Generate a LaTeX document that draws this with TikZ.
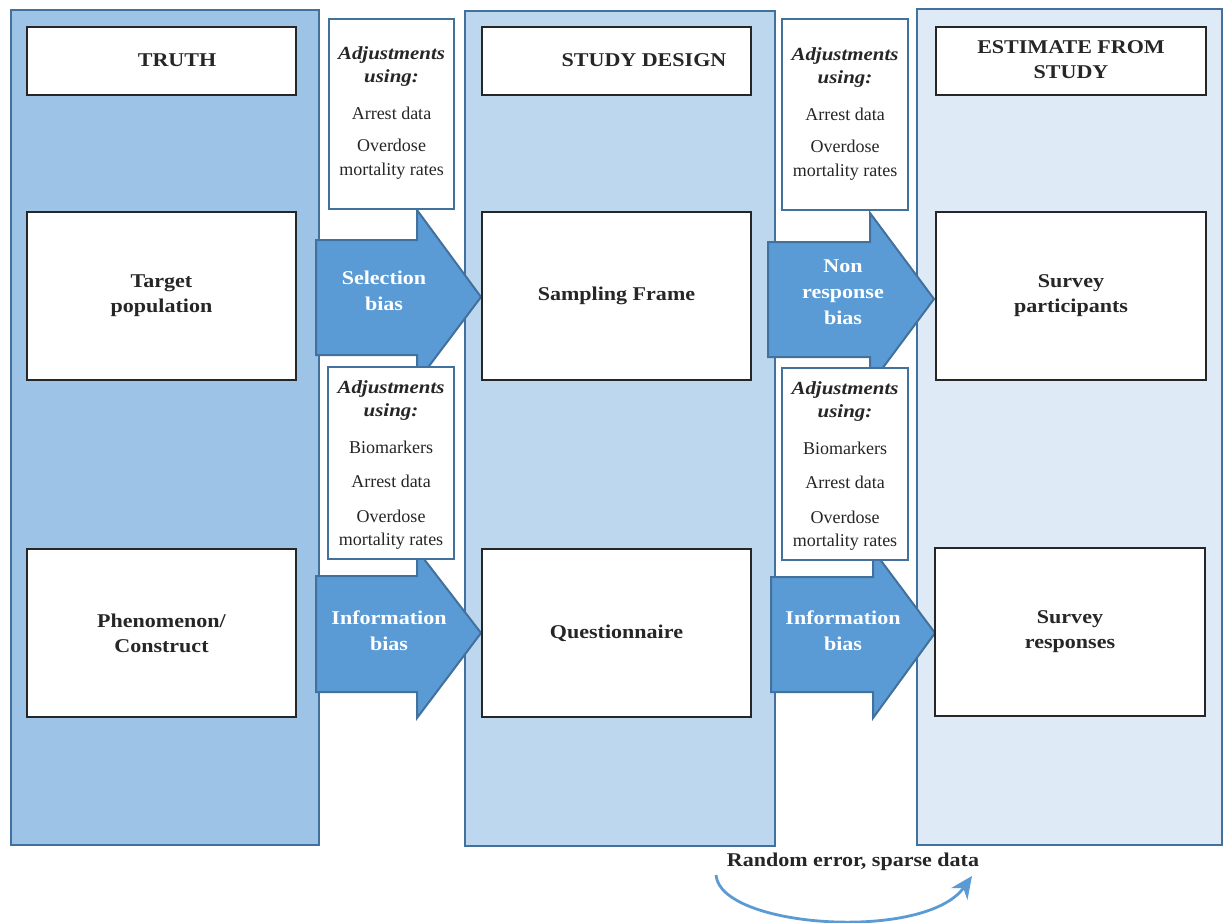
\documentclass[tikz,border=0pt]{standalone}
\usepackage{fontspec}
\setmainfont{Liberation Serif}
\newfontfamily\widefont[FakeStretch=1.13]{Liberation Serif}
\usetikzlibrary{arrows.meta}
\definecolor{colA}{HTML}{9DC3E6}
\definecolor{colB}{HTML}{BDD7EE}
\definecolor{colC}{HTML}{DEEBF7}
\definecolor{edgeblue}{HTML}{41719C}
\definecolor{arrowblue}{HTML}{5B9BD5}
\definecolor{ink}{HTML}{262626}
\newcommand{\adjfont}{\widefont\fontsize{18.5}{23}\selectfont\bfseries\itshape}
\tikzset{
  column/.style={draw=edgeblue, line width=2pt},
  whitebox/.style={draw=ink, fill=white, line width=1.5pt},
  adjbox/.style={draw=edgeblue, fill=white, line width=2pt},
  blockarrow/.style={draw=edgeblue, fill=arrowblue, line width=2pt, line join=miter},
  boldtxt/.style={text=ink, font=\widefont\fontsize{19.5}{25}\selectfont\bfseries, align=center},
  arrowtxt/.style={text=white, font=\widefont\fontsize{19.5}{26}\selectfont\bfseries, align=center},
  adjtxt/.style={text=ink, font=\fontsize{18}{23.5}\selectfont, align=center},
}
\begin{document}
\begin{tikzpicture}[x=1pt,y=-1pt]
\useasboundingbox (0,0) rectangle (1223,922);
\fill[white] (0,0) rectangle (1223,922);
% columns
\draw[column, fill=colA] (11,10) rectangle (319,845);
\draw[column, fill=colB] (465,11) rectangle (775,846);
\draw[column, fill=colC] (917,9) rectangle (1222,845);
% block arrows
\draw[blockarrow] (316,240) -- (417,240) -- (417,210) -- (481,297) -- (417,382) -- (417,355) -- (316,355) -- cycle;
\draw[blockarrow] (768,242) -- (870,242) -- (870,213) -- (934,299) -- (870,385) -- (870,357) -- (768,357) -- cycle;
\draw[blockarrow] (316,576) -- (417,576) -- (417,550) -- (481,633) -- (417,718) -- (417,692) -- (316,692) -- cycle;
\draw[blockarrow] (771,577) -- (873,577) -- (873,550) -- (935,633) -- (873,718) -- (873,692) -- (771,692) -- cycle;
\node[arrowtxt] (selbias) at (384,291) {Selection\\bias};
\node[arrowtxt] (nonresp) at (843,292) {Non\\response\\bias};
\node[arrowtxt] (infoL) at (389,631) {Information\\bias};
\node[arrowtxt] (infoR) at (843,631) {Information\\bias};
% header boxes
\node[whitebox, minimum width=269pt, minimum height=68pt] (truthbox) at (161.5,61) {};
\node[whitebox, minimum width=269pt, minimum height=68pt] (designbox) at (616.5,61) {};
\node[whitebox, minimum width=270pt, minimum height=68pt] (estbox) at (1071,61) {};
\node[boldtxt] (truth) at (177,60) {TRUTH};
\node[boldtxt] (design) at (644,60) {STUDY DESIGN};
\node[boldtxt] (est) at (1071,60) {ESTIMATE FROM\\STUDY};
% row 1
\node[whitebox, minimum width=269pt, minimum height=168pt, boldtxt] (target) at (161.5,296) {Target\\population};
\node[whitebox, minimum width=269pt, minimum height=168pt, boldtxt] (frame) at (616.5,296) {Sampling Frame};
\node[whitebox, minimum width=270pt, minimum height=168pt, boldtxt] (partic) at (1071,296) {Survey\\participants};
% row 2
\node[whitebox, minimum width=269pt, minimum height=168pt, boldtxt] (phenom) at (161.5,633) {Phenomenon/\\Construct};
\node[whitebox, minimum width=269pt, minimum height=168pt, boldtxt] (quest) at (616.5,633) {Questionnaire};
\node[whitebox, minimum width=270pt, minimum height=168pt, boldtxt] (resp) at (1070,632) {Survey\\responses};
% adjustment boxes
\node[adjbox, minimum width=125pt, minimum height=190pt] (adjTL) at (391.5,114) {};
\node[adjbox, minimum width=126pt, minimum height=191pt] (adjTR) at (845,114.5) {};
\node[adjbox, minimum width=126pt, minimum height=192pt] (adjBL) at (391,463) {};
\node[adjbox, minimum width=126pt, minimum height=192pt] (adjBR) at (845,464) {};
\node[adjtxt, anchor=north] (adjTLt) at (391.5,43) {{\adjfont Adjustments}\\{\adjfont using:}\\[13pt]Arrest data\\[9pt]Overdose\\mortality rates};
\node[adjtxt, anchor=north] (adjTRt) at (845,44) {{\adjfont Adjustments}\\{\adjfont using:}\\[13pt]Arrest data\\[9pt]Overdose\\mortality rates};
\node[adjtxt, anchor=north] (adjBLt) at (391,377) {{\adjfont Adjustments}\\{\adjfont using:}\\[13pt]Biomarkers\\[11pt]Arrest data\\[11pt]Overdose\\mortality rates};
\node[adjtxt, anchor=north] (adjBRt) at (845,378) {{\adjfont Adjustments}\\{\adjfont using:}\\[13pt]Biomarkers\\[11pt]Arrest data\\[11pt]Overdose\\mortality rates};
% random error
\node[boldtxt] (randerr) at (853,862) {Random error, sparse data};
\coordinate (cstart) at (716,875);
\coordinate (cend) at (972,876);
\draw[arrowblue, line width=2.8pt, -{Stealth[length=22pt,width=20pt,inset=7pt]}] (cstart) .. controls (720,928) and (925,942) .. (cend);
\end{tikzpicture}
\end{document}
